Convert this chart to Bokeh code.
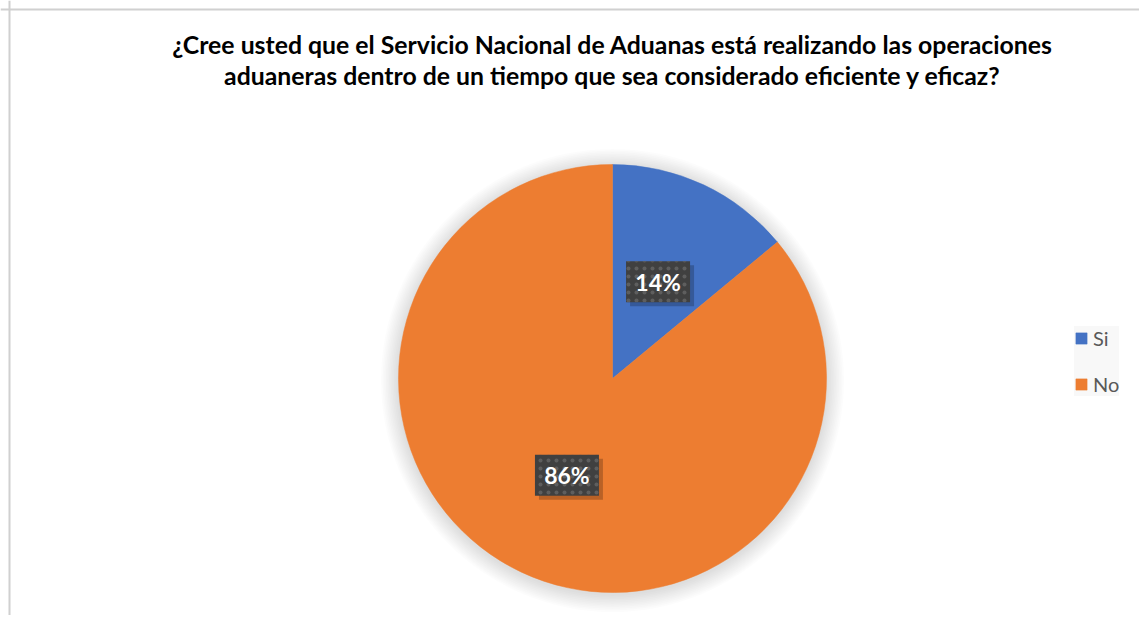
import numpy as np
from bokeh.plotting import figure
from bokeh.models import Range1d, Span, Label, Legend, LegendItem, ColumnDataSource
from bokeh.core.properties import value
from bokeh.embed import file_html
from bokeh.resources import INLINE

# ---- data ----
categories = ["Si", "No"]
percent = [14, 86]
colors = ["#4472C4", "#ED7D31"]
title_lines = [
    "¿Cree usted que el Servicio Nacional de Aduanas está realizando las operaciones",
    "aduaneras dentro de un tiempo que sea considerado eficiente y eficaz?",
]

W, H = 1139, 615
p = figure(width=W, height=H, x_range=Range1d(0, W), y_range=Range1d(0, H),
           min_border=0, toolbar_location=None, output_backend="svg",
           x_axis_type=None, y_axis_type=None, outline_line_color=None,
           background_fill_color="white", border_fill_color="white")
p.grid.visible = False

# chart frame (left and top edges visible)
p.add_layout(Span(location=9, dimension="height", line_color="#d0d0d0", line_width=2))
p.add_layout(Span(location=H - 9, dimension="width", line_color="#d0d0d0", line_width=2))

# title
for i, t in enumerate(title_lines):
    p.add_layout(Label(x=612, y=571 - 31 * i, text=t, text_align="center",
                       text_baseline="alphabetic", text_font="Lato",
                       text_font_style="bold", text_font_size="24.8px",
                       text_color="#000000"))

# pie geometry
cx, cy, R = 612, 237, 214
vals = np.array(percent, dtype=float)
frac = vals / vals.sum()
cum = np.concatenate([[0], np.cumsum(frac)])
start = np.pi / 2 - cum[:-1] * 2 * np.pi
end = np.pi / 2 - cum[1:] * 2 * np.pi
mid = (start + end) / 2

# soft shadow
for k in range(1, 12):
    p.circle(x=cx, y=cy - 2, radius=R + 1.6 * k, fill_color="black",
             fill_alpha=0.013, line_color=None)

src = ColumnDataSource(dict(cat=categories, color=colors, start=start, end=end,
                            x=[cx] * len(categories), y=[cy] * len(categories)))
wr = p.wedge(x="x", y="y", radius=R, start_angle="start", end_angle="end",
             direction="clock", fill_color="color", line_color="color",
             line_width=0.5, source=src)

# data labels
lx = cx + 0.5 * R * np.cos(mid)
ly = cy + 0.5 * R * np.sin(mid)
labels = [f"{v:.0f}%" for v in frac * 100]
lsrc = ColumnDataSource(dict(x=lx, y=ly, sx=lx + 4, sy=ly - 4, text=labels))
p.rect(x="sx", y="sy", width=64, height=41, source=lsrc, fill_color="black",
       fill_alpha=0.22, line_color=None)
p.rect(x="x", y="y", width=64, height=41, source=lsrc, fill_color="#404040",
       line_color=None, hatch_pattern="dot", hatch_color="#5e5e5e",
       hatch_scale=8, hatch_weight=1.5, hatch_alpha=1.0)
p.text(x="x", y="y", text="text", source=lsrc, text_align="center",
       text_baseline="middle", text_color="white", text_font=value("Lato"),
       text_font_style="bold", text_font_size="23px")

# legend
legend = Legend(items=[LegendItem(label=c, renderers=[wr], index=i)
                       for i, c in enumerate(categories)],
                location=(1074, 219), orientation="vertical",
                background_fill_color="#f8f8f8", background_fill_alpha=1.0,
                border_line_color=None, glyph_width=14, glyph_height=14,
                label_text_font="Lato", label_text_font_size="20px",
                label_text_color="#595959", spacing=22, padding=12,
                label_standoff=5, margin=0)
p.add_layout(legend, "center")

open("out.html", "w").write(file_html(p, INLINE))
